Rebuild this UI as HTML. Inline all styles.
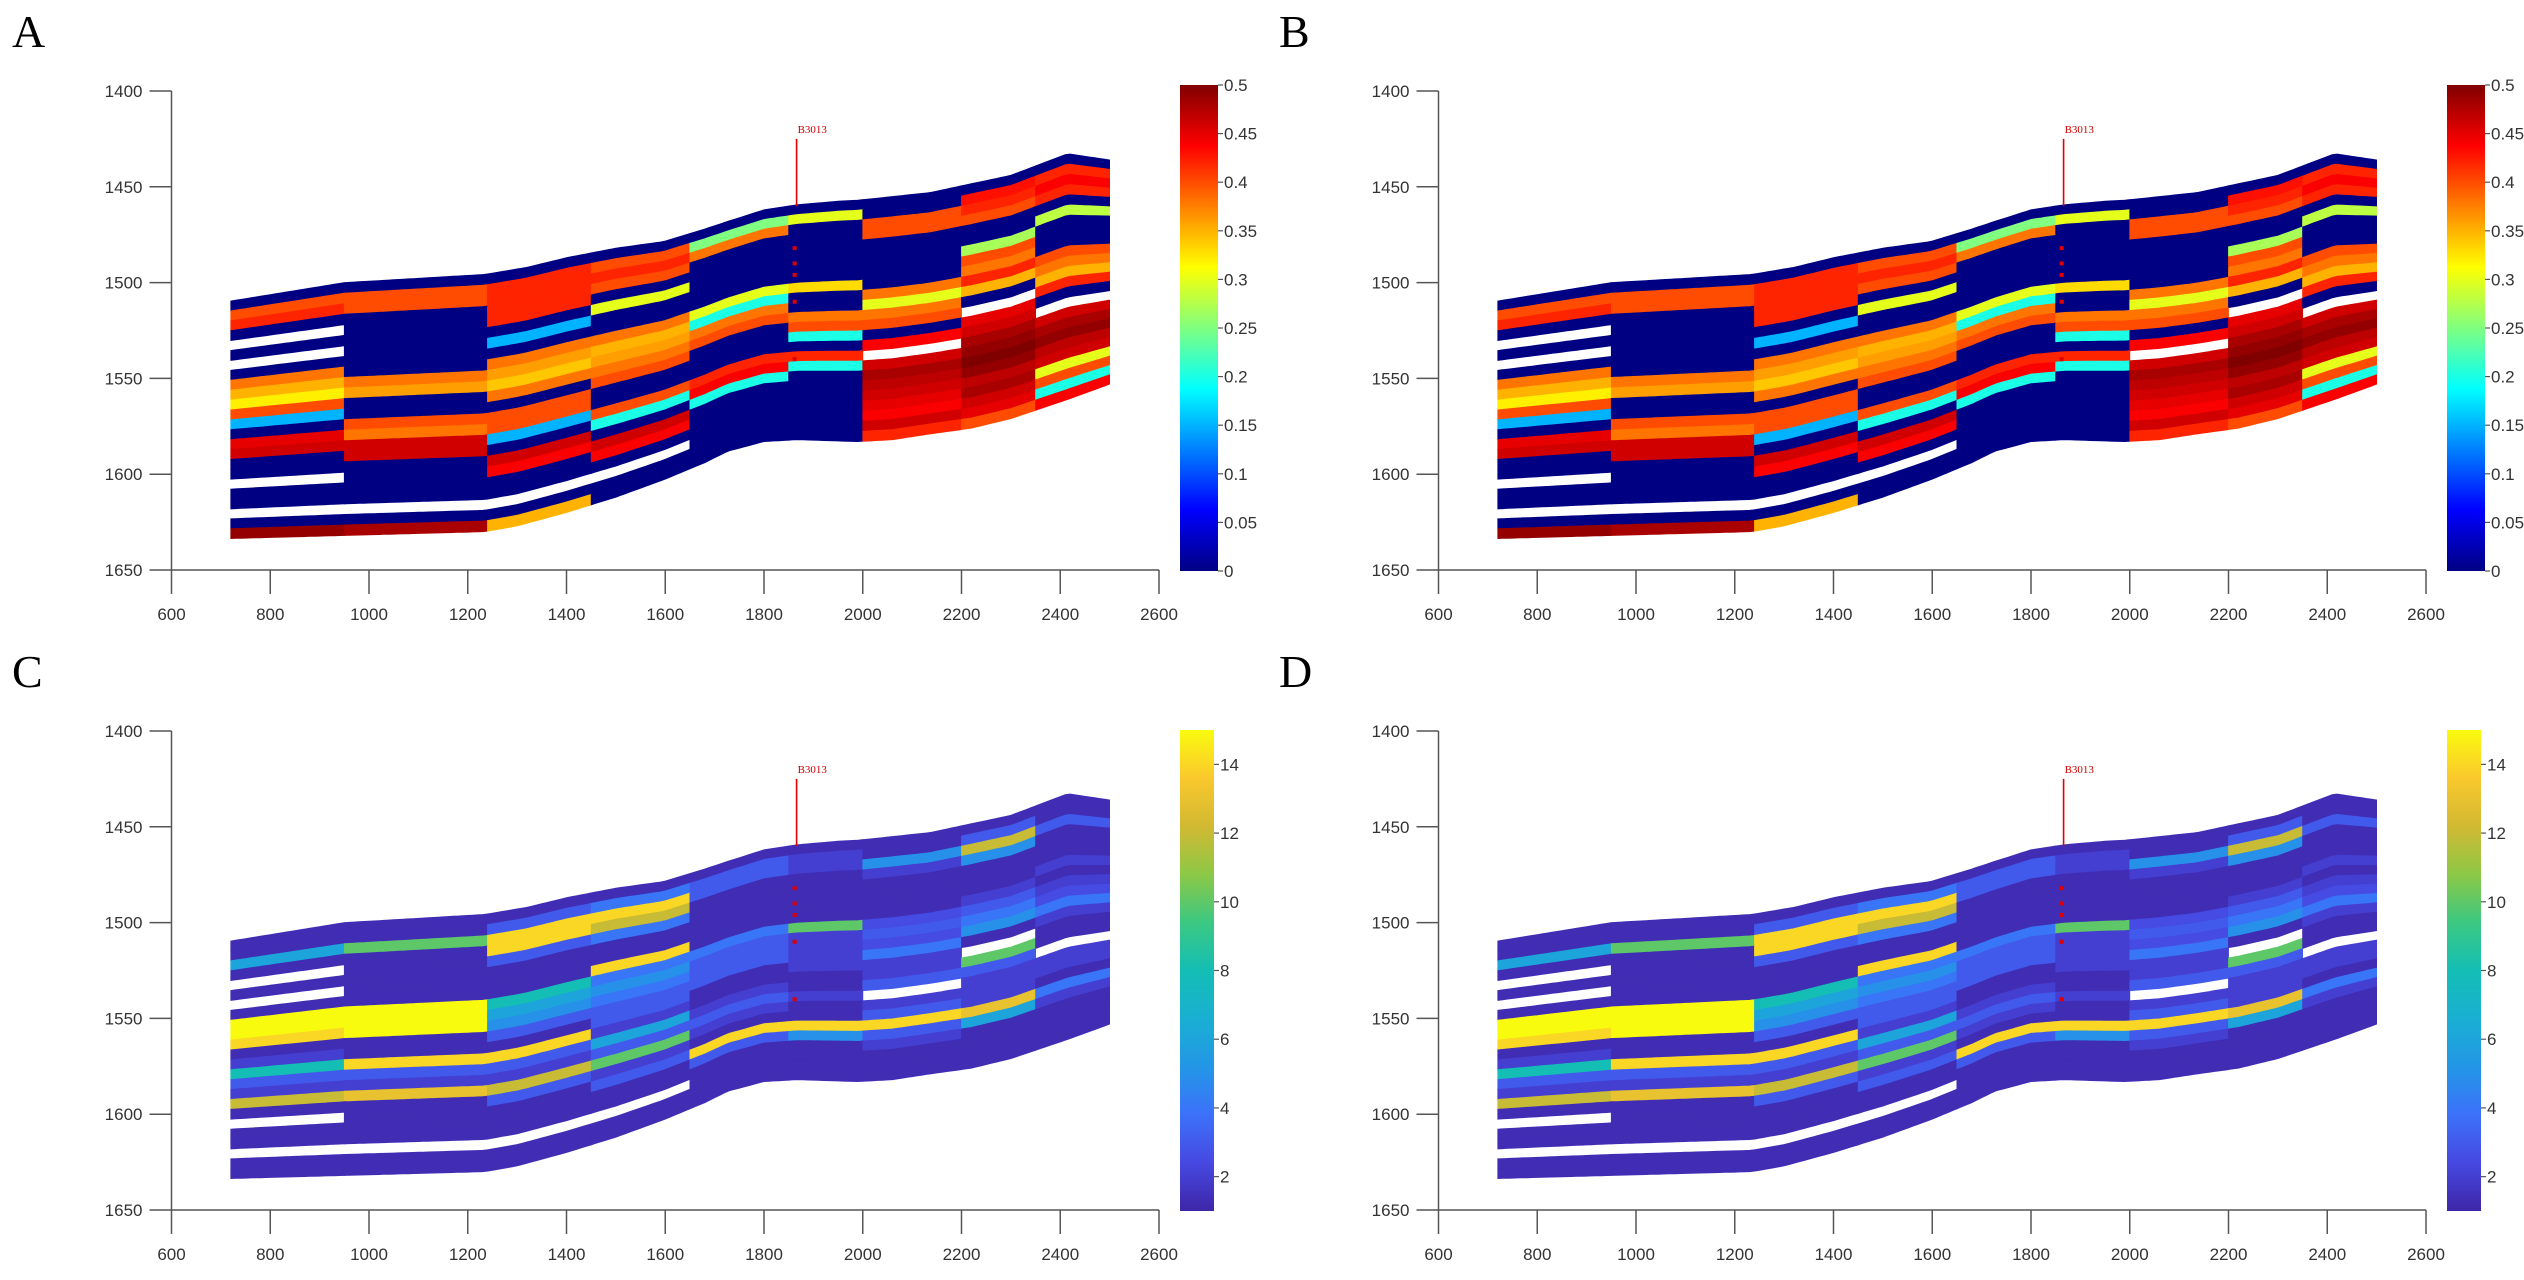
<!DOCTYPE html>
<html><head><meta charset="utf-8">
<style>
html,body{margin:0;padding:0;background:#fff;}
svg{display:block;}
text{font-family:"Liberation Sans",sans-serif;}
.lbl{font-family:"Liberation Serif",serif;}
</style></head>
<body>
<svg id="fig" width="2524" height="1280" viewBox="0 0 2524 1280" xmlns="http://www.w3.org/2000/svg"></svg>
<script>
// ---- data ----
const X_TICKS=[600,800,1000,1200,1400,1600,1800,2000,2200,2400,2600];
const Y_TICKS=[1400,1450,1500,1550,1600,1650];
const PORO_TICKS=[0,0.05,0.1,0.15,0.2,0.25,0.3,0.35,0.4,0.45,0.5];
const PERM_TICKS=[2,4,6,8,10,12,14];
const SEG_EDGES=[720,950,1240,1450,1650,1850,2000,2200,2350,2500];
const TOP_X=[720,950,1235,1320,1400,1500,1596,1680,1727,1800,1866,1950,1989,2136,2300,2415,2500];
const TOP_D=[1509.6,1500,1495.7,1492,1487,1482,1478.6,1472,1468,1462,1459.4,1457.5,1457,1453,1444,1432.7,1436];
const BOT_X=[720,950,1235,1300,1400,1500,1596,1680,1727,1800,1866,1989,2060,2136,2220,2300,2415,2500];
const BOT_D=[1633.6,1632,1630,1627,1620,1612,1603,1594,1588,1583,1582,1583,1582,1579,1576,1571,1561,1553];
const PORO=[
[0,0,0,0,0,0,0,0,0],
[.40,.40,.42,.40,.25,.30,0,.43,.42],
[.42,.40,.42,.42,.38,0,.40,.42,.44],
[0,0,.42,.40,0,0,.40,.40,.42],
[-1,0,.42,0,0,0,0,0,0],
[0,0,0,.30,0,0,0,0,.28],
[-1,0,.15,0,0,0,0,.27,0],
[0,0,0,0,0,0,0,.40,0],
[.38,0,.38,.38,.30,.33,0,.38,0],
[.35,.38,.36,.35,.20,0,.38,.42,.40],
[.32,.36,.34,.36,.38,0,.30,.35,.38],
[.40,0,.38,.38,.40,.38,.38,0,.35],
[.15,0,0,.40,0,.40,.40,-1,.42],
[0,.40,.40,0,0,.2,0,.45,0],
[.45,.38,.40,0,0,0,.44,.46,-1],
[.46,.46,.15,.40,.42,.42,-1,.48,.46],
[0,.46,0,.2,.44,.2,.46,.49,.48],
[0,0,.46,0,.2,0,.48,.50,.49],
[-1,0,.44,.46,0,0,.47,.49,.47],
[0,0,0,.44,0,0,.46,.47,.46],
[0,0,0,0,0,0,.45,.48,.30],
[-1,-1,-1,-1,0,0,.44,.46,.40],
[0,0,0,0,0,0,.46,.45,.20],
[.49,.48,.35,0,0,0,.42,.40,.44]
];
const PERM=[
[1.3,1.3,1.3,1.3,1.3,1.3,1.3,1.3,1.3],
[1.3,1.3,3,4,3,2,1.3,3,1.3],
[6,10,14,14,3,2,5,12,3],
[1.3,1.3,14,12,1.3,1.3,2,5,1.3],
[-1,1.3,3,4,1.3,1.3,1.3,1.3,1.3],
[1.3,1.3,1.3,1.3,1.3,1.3,1.3,1.3,1.3],
[-1,1.3,1.3,1.3,1.3,1.3,1.3,1.3,2],
[1.3,1.3,1.3,14,1.3,1.3,1.3,2,1.3],
[15,15,8,4,4,10,2.5,3,2],
[15,15,6,5,3,2,3,4,2.5],
[14,15,5,4,3,2,2.5,5,4],
[1.3,1.3,3,3,3,2,4,1.3,2],
[2,1.3,1.3,3,1.3,2,2,-1,1.3],
[8,14,14,2,1.3,1.3,2,10,1.3],
[3,3,3,6,2,1.3,3,3,-1],
[2,2,2,3,3,2,-1,2,2],
[12,13,12,10,2,1.3,2,2,2],
[1.3,1.3,3,2,1.3,1.3,3,2,1.3],
[-1,1.3,1.3,3,14,14,14,13,4],
[1.3,1.3,1.3,1.3,3,5,3,6,2],
[1.3,1.3,1.3,1.3,1.3,1.3,2,1.3,1.3],
[-1,-1,-1,-1,1.3,1.3,1.3,1.3,1.3],
[1.3,1.3,1.3,1.3,1.3,1.3,1.3,1.3,1.3],
[1.3,1.3,1.3,1.3,1.3,1.3,1.3,1.3,1.3]
];
const WELL_X=1866, WELL_TOP=1425, WELL_BOT=1460;
const WELL_MARKS=[1482,1490,1496,1510,1540];

// ---- helpers ----
const NS="http://www.w3.org/2000/svg";
const fig=document.getElementById('fig');
function mk(tag,attrs,parent){const e=document.createElementNS(NS,tag);for(const k in attrs)e.setAttribute(k,attrs[k]);(parent||fig).appendChild(e);return e;}
function interp(xs,ys,x){if(x<=xs[0])return ys[0];for(let i=1;i<xs.length;i++){if(x<=xs[i]){const t=(x-xs[i-1])/(xs[i]-xs[i-1]);return ys[i-1]+t*(ys[i]-ys[i-1]);}}return ys[ys.length-1];}
function lerpStops(stops,t){t=Math.max(0,Math.min(1,t));for(let i=1;i<stops.length;i++){if(t<=stops[i][0]){const a=stops[i-1],b=stops[i];const u=(t-a[0])/(b[0]-a[0]);return 'rgb('+[1,2,3].map(j=>Math.round(a[j]+u*(b[j]-a[j]))).join(',')+')';}}const l=stops[stops.length-1];return 'rgb('+l[1]+','+l[2]+','+l[3]+')';}
const JET=[[0,0,0,131],[0.125,0,0,255],[0.375,0,255,255],[0.625,255,255,0],[0.875,255,0,0],[1,128,0,0]];
const PARULA=[[0,62,38,168],[0.1,70,72,225],[0.2,60,113,250],[0.3,35,150,230],[0.4,25,175,210],[0.5,20,190,180],[0.6,60,200,130],[0.7,140,200,70],[0.8,210,185,50],[0.9,250,200,45],[1,249,251,14]];

const PANELS=[
 {id:'a',letter:'A',dx:0,dy:0,grid:PORO,cmap:JET,vmin:0,vmax:0.5,ticks:PORO_TICKS,cbx:1180,cbw:38,cbt:85},
 {id:'b',letter:'B',dx:1267,dy:0,grid:PORO,cmap:JET,vmin:0,vmax:0.5,ticks:PORO_TICKS,cbx:1180,cbw:38,cbt:85},
 {id:'c',letter:'C',dx:0,dy:640,grid:PERM,cmap:PARULA,vmin:1,vmax:15,ticks:PERM_TICKS,cbx:1180,cbw:34,cbt:90},
 {id:'d',letter:'D',dx:1267,dy:640,grid:PERM,cmap:PARULA,vmin:1,vmax:15,ticks:PERM_TICKS,cbx:1180,cbw:34,cbt:90}
];

PANELS.forEach(p=>{
 const L=171.5+p.dx,R=1159+p.dx,T=91+p.dy,B=570+p.dy;
 const xs=v=>L+(v-600)/2000*(R-L);
 const ys=v=>T+(v-1400)/250*(B-T);
 const g=mk('g',{});
 
 
 const lt=mk('text',{x:12+p.dx,y:47+p.dy,'font-size':46,class:'lbl',fill:'#000'},g);
 lt.textContent=p.letter;
 
 
 const cg=mk('g',{},g);
 
 
 const nL=p.grid.length;
 for(let li=0;li<nL;li++){
  const f0=li/nL,f1=(li+1)/nL;
  for(let s=0;s<SEG_EDGES.length-1;s++){
   const v=p.grid[li][s];
   if(v<0)continue;
   const x0=SEG_EDGES[s],x1=SEG_EDGES[s+1];
   const top=[],bot=[];
   for(let x=x0;x<=x1+0.01;x+=10){
    const xx=Math.min(x,x1);
    const td=interp(TOP_X,TOP_D,xx),bd=interp(BOT_X,BOT_D,xx),th=bd-td;
    top.push(xs(xx).toFixed(1)+','+ys(td+f0*th).toFixed(1));
    bot.push(xs(xx).toFixed(1)+','+ys(td+f1*th).toFixed(1));
   }
   const col=lerpStops(p.cmap,(v-p.vmin)/(p.vmax-p.vmin));
   const poly=mk('polygon',{points:top.concat(bot.reverse()).join(' '),fill:col,stroke:col,'stroke-width':0.8},cg);
   
   
  }
 }
 const wl=mk('line',{x1:xs(WELL_X),x2:xs(WELL_X),y1:ys(WELL_TOP),y2:ys(WELL_BOT),stroke:'#e00000','stroke-width':1.6},g);
 
 
 const wt=mk('text',{x:xs(WELL_X)+1,y:ys(WELL_TOP)-6,'font-size':11,class:'lbl',fill:'#d00000'},g);
 wt.textContent='B3013';
 
 
 WELL_MARKS.forEach(d=>{
  const m=mk('rect',{x:xs(WELL_X-8),y:ys(d)-2,width:4,height:4,fill:'#e00000'},g);
  
  
 });
 const ax=mk('g',{stroke:'#555','stroke-width':1.5},g);
 
 
 const xl=mk('line',{x1:L,x2:R,y1:B,y2:B},ax);
 
 
 const yl=mk('line',{x1:L,x2:L,y1:T,y2:B},ax);
 
 
 X_TICKS.forEach(v=>{
  const x=xs(v);
  const t=mk('line',{x1:x,x2:x,y1:B,y2:B+24},ax);
  
  
  const tx=mk('text',{x:x,y:B+50,'font-size':17,'text-anchor':'middle',fill:'#333'},g);
  tx.textContent=v;
  
  
 });
 Y_TICKS.forEach(v=>{
  const y=ys(v);
  const t=mk('line',{x1:L-22,x2:L,y1:y,y2:y},ax);
  
  
  const tx=mk('text',{x:L-29,y:y+6,'font-size':17,'text-anchor':'end',fill:'#333'},g);
  tx.textContent=v;
  
  
 });
 const cbx=p.cbx+p.dx,cbt=p.cbt+p.dy,cbb=571+p.dy;
 const gid='grad-'+p.id;
 const defs=mk('defs',{},g);
 const lg=mk('linearGradient',{id:gid,x1:0,y1:1,x2:0,y2:0},defs);
 for(let i=0;i<=40;i++){const t=i/40;mk('stop',{offset:t,'stop-color':lerpStops(p.cmap,t)},lg);}
 const cb=mk('rect',{x:cbx,y:cbt,width:p.cbw,height:cbb-cbt,fill:'url(#'+gid+')'},g);
 
 
 const cys=v=>cbb-(v-p.vmin)/(p.vmax-p.vmin)*(cbb-cbt);
 p.ticks.forEach(v=>{
  const y=cys(v);
  const tk=mk('line',{x1:cbx+p.cbw,x2:cbx+p.cbw+5,y1:y,y2:y,stroke:'#555','stroke-width':1.2},g);
  
  
  const tx=mk('text',{x:cbx+p.cbw+6,y:y+6,'font-size':17,fill:'#333'},g);
  tx.textContent=v;
  
  
 });
});
</script>
</body></html>
